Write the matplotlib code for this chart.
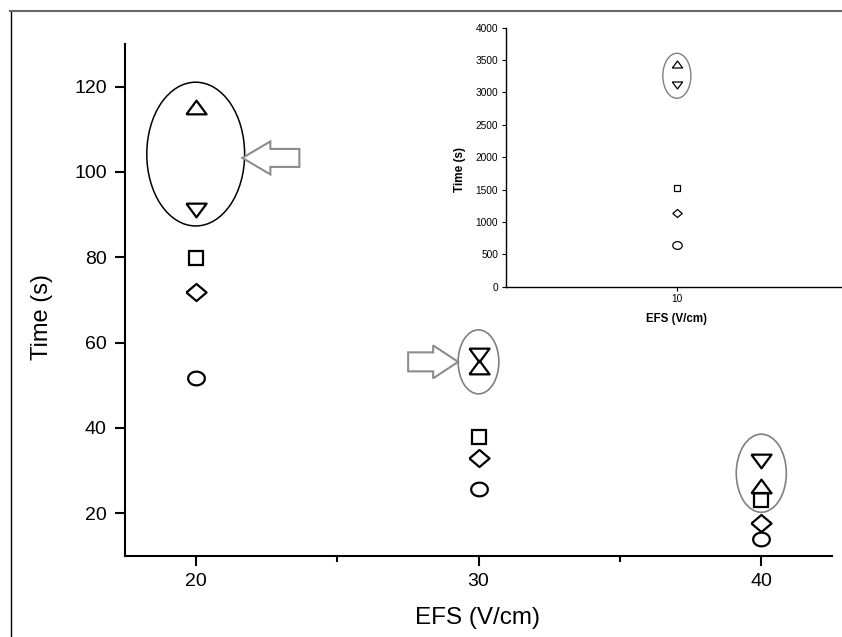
import numpy as np
import matplotlib
matplotlib.use('Agg')
import matplotlib.pyplot as plt
from matplotlib.patches import Ellipse, Polygon
from matplotlib.lines import Line2D
import matplotlib.transforms as mtransforms

plt.rcParams['font.family'] = ['Liberation Sans', 'DejaVu Sans']

# dados do grafico principal
efs = [20, 30, 40]
t_up = [115.3, 54.2, 26.4]
t_down = [91.2, 57.1, 32.3]
t_square = [79.9, 37.9, 23.1]
t_diamond = [71.8, 32.9, 17.7]
t_circle = [51.8, 25.8, 13.9]

# dados do grafico interno (10 V/cm)
efs_in = [10]
t_up_in = [3435]
t_down_in = [3115]
t_square_in = [1520]
t_diamond_in = [1134]
t_circle_in = [644]

# formatos dos marcadores
tri_up = [(-1, -0.68), (1, -0.68), (0, 0.68), (-1, -0.68)]
tri_down = [(-1, 0.68), (1, 0.68), (0, -0.68), (-1, 0.68)]
diamante = [(-1, 0), (0, 0.85), (1, 0), (0, -0.85), (-1, 0)]
ang = np.linspace(0, 2 * np.pi, 60)
oval = list(zip(np.cos(ang), 0.82 * np.sin(ang)))

fig = plt.figure(figsize=(8.42, 6.37), dpi=100)
W, H = 842, 637

ax = fig.add_axes([125 / W, 1 - 556 / H, 707 / W, 512 / H])
estilo = dict(ls='none', mfc='none', mec='black', mew=1.6)
ax.plot(efs, t_up, marker=tri_up, ms=14.5, **estilo)
ax.plot(efs, t_down, marker=tri_down, ms=14.5, **estilo)
ax.plot(efs, t_square, marker='s', ms=9.8, **estilo)
ax.plot(efs, t_diamond, marker=diamante, ms=14.5, **estilo)
ax.plot(efs, t_circle, marker=oval, ms=12, **estilo)

ax.set_xlim(17.5, 42.5)
ax.set_ylim(10, 130)
ax.set_xticks([20, 30, 40])
ax.set_xticks([25, 35], minor=True)
ax.set_yticks([20, 40, 60, 80, 100, 120])
for s in ['top', 'right']:
    ax.spines[s].set_visible(False)
for s in ['left', 'bottom']:
    ax.spines[s].set_linewidth(1.5)
ax.tick_params(axis='both', which='major', direction='out', length=7.2, width=1.5, labelsize=14)
ax.tick_params(axis='y', pad=6)
ax.tick_params(axis='x', pad=5)
ax.tick_params(axis='x', which='minor', direction='out', length=4.3, width=1.5)
ax.set_xlabel('EFS (V/cm)', fontsize=17.5, va='center')
ax.set_ylabel('Time (s)', fontsize=17, va='center')
ax.xaxis.set_label_coords(0.499, -0.121)
ax.yaxis.set_label_coords(-0.117, 0.467)

# elipses de destaque
ax.add_patch(Ellipse((20, 104.2), 3.46, 33.7, fill=False, ec='black', lw=1.1))
ax.add_patch(Ellipse((30, 55.5), 1.44, 15.0, fill=False, ec='#808080', lw=1.2))
ax.add_patch(Ellipse((40, 29.4), 1.77, 18.3, fill=False, ec='#808080', lw=1.2))


def seta(ax, x, y, sentido, cabeca, total, meia_haste, meia_cabeca):
    verts = [(0, 0), (cabeca, meia_cabeca), (cabeca, meia_haste), (total, meia_haste),
             (total, -meia_haste), (cabeca, -meia_haste), (cabeca, -meia_cabeca)]
    tr = mtransforms.Affine2D().scale(sentido, 1) + mtransforms.ScaledTranslation(x, y, ax.transData)
    ax.add_patch(Polygon(verts, closed=True, fc='white', ec='#8c8c8c', lw=1.5,
                         transform=tr, clip_on=False))


seta(ax, 21.65, 103.3, 1, 28, 57, 9, 16.5)
seta(ax, 29.28, 55.5, -1, 25, 50, 9.5, 16.5)

# grafico interno
ax_in = fig.add_axes([505.7 / W, 1 - 286.7 / H, 342.3 / W, 259 / H])
ax_in.set_facecolor('none')
estilo_in = dict(ls='none', mfc='none', mec='black', mew=0.9)
ax_in.plot(efs_in, t_up_in, marker=tri_up, ms=7.4, **estilo_in)
ax_in.plot(efs_in, t_down_in, marker=tri_down, ms=7.4, **estilo_in)
ax_in.plot(efs_in, t_square_in, marker='s', ms=5, **estilo_in)
ax_in.plot(efs_in, t_diamond_in, marker=diamante, ms=6.8, **estilo_in)
ax_in.plot(efs_in, t_circle_in, marker=oval, ms=6.8, **estilo_in)
ax_in.add_patch(Ellipse((10, 3257), 0.164, 695, fill=False, ec='#808080', lw=1.0))

ax_in.set_xlim(9, 11)
ax_in.set_ylim(0, 4000)
ax_in.set_xticks([10])
ax_in.set_yticks(np.arange(0, 4001, 500))
for s in ['top', 'right']:
    ax_in.spines[s].set_visible(False)
for s in ['left', 'bottom']:
    ax_in.spines[s].set_linewidth(1.0)
ax_in.tick_params(axis='both', direction='out', length=3, width=0.8, labelsize=7.3, pad=2.5)
ax_in.set_xlabel('EFS (V/cm)', fontsize=8.3, fontweight='bold', va='center')
ax_in.set_ylabel('Time (s)', fontsize=8.5, fontweight='bold', va='center')
ax_in.xaxis.set_label_coords(0.5, -0.125)
ax_in.yaxis.set_label_coords(-0.1335, 0.454)

# moldura
fig.add_artist(Line2D([10.5 / W, 10.5 / W], [0, 1 - 10.5 / H], color='black', lw=1.0))
fig.add_artist(Line2D([10 / W, 1], [1 - 10.5 / H, 1 - 10.5 / H], color='#666666', lw=1.5))

fig.savefig('out.png', dpi=100)
